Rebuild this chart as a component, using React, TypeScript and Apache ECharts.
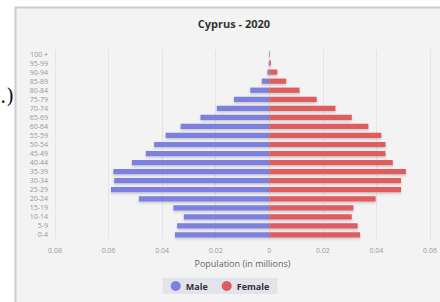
import React, { useEffect, useRef } from "react";
import * as echarts from "echarts";

const ageGroups = ["0-4", "5-9", "10-14", "15-19", "20-24", "25-29", "30-34", "35-39", "40-44", "45-49", "50-54", "55-59", "60-64", "65-69", "70-74", "75-79", "80-84", "85-89", "90-94", "95-99", "100 +"];
const maleValues = [0.0352, 0.0344, 0.0319, 0.0358, 0.0487, 0.0591, 0.0579, 0.0582, 0.0513, 0.0461, 0.043, 0.0387, 0.0331, 0.0257, 0.0196, 0.0132, 0.0071, 0.0028, 0.0007, 0.0002, 0.0001];
const femaleValues = [0.0339, 0.033, 0.0308, 0.0314, 0.0397, 0.0492, 0.0492, 0.051, 0.0461, 0.0434, 0.0434, 0.0418, 0.037, 0.0308, 0.0247, 0.0177, 0.0113, 0.0063, 0.003, 0.0006, 0.0002];
const xTicks = [-0.08, 0.06, 0.02];

export default function App() {
  const ref = useRef<HTMLDivElement>(null);
  useEffect(() => {
    if (!ref.current) return;
    const chart = echarts.init(ref.current, undefined, { renderer: "svg" });
    const font = "'Open Sans', 'Noto Sans', sans-serif";
    chart.setOption({
      animation: false,
      textStyle: { fontFamily: font },
      graphic: [
        {
          type: "rect",
          z: -10,
          silent: true,
          shape: { x: 15.5, y: 7.5, width: 440, height: 310 },
          style: { fill: "#f3f3f3", stroke: "#cdcdcd", lineWidth: 2 },
        },
        {
          type: "text",
          left: 0,
          top: 86,
          style: { text: ".)", fontSize: 20, fill: "#111", fontFamily: "DejaVu Serif, serif" },
        },
      ],
      title: {
        text: "Cyprus - 2020",
        left: 229,
        textAlign: "center",
        top: 13,
        textStyle: { fontSize: 11, fontWeight: "bold", color: "#333", fontFamily: font },
      },
      legend: {
        data: ["Male", "Female"],
        left: "center",
        bottom: 8,
        padding: [3, 8],
        icon: "circle",
        itemWidth: 10,
        itemHeight: 10,
        itemGap: 14,
        backgroundColor: "#e3e3ec",
        textStyle: { fontSize: 9, fontWeight: "bold", color: "#333", fontFamily: font },
      },
      grid: { left: 55, right: 10, top: 49.5, height: 190 },
      xAxis: {
        type: "value",
        min: xTicks[0],
        max: xTicks[1],
        interval: xTicks[2],
        name: "Population (in millions)",
        nameLocation: "middle",
        nameGap: 19,
        nameTextStyle: { fontSize: 9, color: "#666", fontFamily: font },
        axisLine: { show: false },
        axisTick: { show: false },
        axisLabel: {
          fontSize: 7,
          color: "#999",
          margin: 7,
          formatter: (v: number) => {
            const a = Math.abs(v);
            return a < 1e-9 ? "0" : String(parseFloat(a.toFixed(2)));
          },
        },
        splitLine: { show: true, lineStyle: { color: "#e4e4e4", width: 1 } },
      },
      yAxis: {
        type: "category",
        data: ageGroups,
        axisLine: { show: false },
        axisTick: { show: false },
        axisLabel: { fontSize: 7, color: "#999", margin: 7, interval: 0 },
      },
      series: [
        {
          name: "Male",
          type: "bar",
          stack: "pop",
          barWidth: "58%",
          data: maleValues.map((v) => -v),
          itemStyle: { color: "#7d80de", shadowColor: "rgba(0,0,0,0.18)", shadowBlur: 2, shadowOffsetY: 1.5 },
        },
        {
          name: "Female",
          type: "bar",
          stack: "pop",
          barWidth: "58%",
          data: femaleValues,
          itemStyle: { color: "#e05d5f", shadowColor: "rgba(0,0,0,0.18)", shadowBlur: 2, shadowOffsetY: 1.5 },
        },
      ],
    });
    return () => chart.dispose();
  }, []);
  return (
    <div
      ref={ref}
      style={{ position: "fixed", left: 0, top: 0, width: 440, height: 302, background: "#ffffff" }}
    />
  );
}
